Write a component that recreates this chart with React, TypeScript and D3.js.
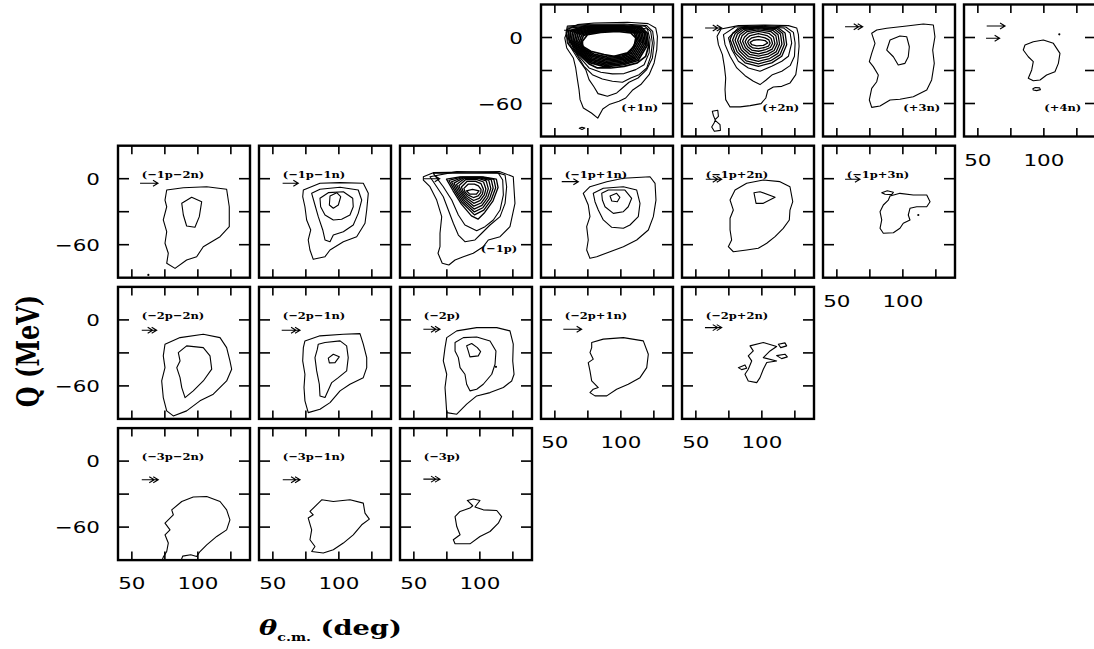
import React from 'react';
import * as d3 from 'd3';

type Pt = [number, number];
type Arrow = { from: number; to: number; q: number; heads: 1 | 2 };

// Axes shared by every panel
const THETA_DOMAIN: [number, number] = [39.5, 139.5];
const Q_DOMAIN: [number, number] = [-90, 30];
const THETA_TICKS = [50, 75, 100, 125];
const THETA_LABELS = [50, 100];
const Q_TICKS = [0, -30, -60];
const Q_LABELS = [0, -60];

// ---- (+1n) ----
const P1N_C1: Pt[] = [[60,7.8],[57.5,-0.4],[59,-9.5],[64,-18.6],[65.8,-27.7],[67.1,-38.3],[68.3,-47.4],[69.1,-56.5],[71.6,-64.1],[77.7,-68.6],[82.5,-73.3],[86.3,-65],[91.1,-61],[98.6,-58],[103.7,-55],[108.7,-48],[115.1,-42.8],[121.4,-33.8],[125.2,-23.1],[127.2,-11],[127.7,1.1],[126.4,8.7],[120.6,12.6],[105,13.8],[79.7,13.2],[67.1,11.7]];
const P1N_C2: Pt[] = [[59.5,10.5],[58.5,4.7],[59.5,-5],[61.5,-8],[67.1,-18.6],[73.4,-29.2],[75.9,-38.3],[79.7,-45],[82.7,-51],[89.8,-53.4],[96.9,-50.4],[101.2,-45.9],[106.2,-40.7],[113,-36.8],[119.6,-29.2],[123.9,-18.6],[125.2,-5],[124.1,5.6],[119.6,10.8],[102.4,12.3],[77.2,12]];
const P1N_C3: Pt[] = [[60,9.5],[59,3],[60.3,-6],[65.8,-14],[72.1,-26.2],[78.4,-33.8],[86,-37.7],[93.6,-39.8],[101.2,-40.7],[107.5,-36.8],[113.8,-33.8],[119.6,-27.7],[122.6,-17.1],[123.9,-5],[122.6,5.6],[118.1,10.2],[102.4,11.4],[77.2,11.4]];
const P1N_C4: Pt[] = [[61,8.5],[59.8,2],[61.8,-7.5],[68.3,-17.1],[75.9,-27.7],[84.8,-31.6],[93.6,-33.1],[102.4,-32.8],[111.3,-29.2],[117.6,-24.7],[121.4,-14],[122.1,-1.9],[120.1,7.8],[102.4,10.8],[77.2,10.8]];
const P1N_C5: Pt[] = [[60.5,6],[60.8,-2],[64.5,-10],[67,-14],[76,-24],[82.2,-27.7],[92.3,-27.7],[102.4,-26.2],[112.5,-23.1],[118.8,-17.1],[121,-8],[120,4],[115,9.8],[95,10.4],[72,10]];
const P1N_R1: Pt[] = [[61.9,5.4],[61.4,-2.2],[67.7,-13.6],[76.4,-22.9],[88.2,-26.7],[101.9,-24.8],[113.1,-20.9],[119.9,-7.3],[118.8,4],[113.6,9.3],[94.4,9.9],[72.8,9.3]];
const P1N_R2: Pt[] = [[63.3,4.9],[62.6,-2.5],[68.3,-13.1],[76.9,-21.8],[88.4,-25.4],[101.8,-23.7],[112.2,-19.9],[118.8,-6.7],[117.6,4.2],[112.1,8.8],[93.9,9.3],[73.6,8.7]];
const P1N_R3: Pt[] = [[64.7,4.3],[63.7,-2.7],[69,-12.7],[77.3,-20.7],[88.7,-24.2],[101.7,-22.5],[111.3,-18.8],[117.7,-6],[116.3,4],[110.7,8.4],[93.3,8.8],[74.3,8]];
const P1N_R4: Pt[] = [[66.1,3.8],[64.9,-2.9],[69.7,-12.2],[77.8,-19.6],[88.9,-22.9],[101.6,-21.3],[110.4,-17.8],[116.6,-5.3],[115.1,4.1],[109.2,7.9],[92.8,8.2],[75.1,7.3]];
const P1N_R5: Pt[] = [[67.4,3.2],[66.1,-3.1],[70.3,-11.8],[78.2,-18.4],[89.1,-21.6],[101.4,-20.2],[109.6,-16.7],[115.4,-4.7],[113.9,4],[107.8,7.4],[92.2,7.7],[75.9,6.7]];
const P1N_R6: Pt[] = [[68.8,2.7],[67.3,-3.3],[71,-11.3],[78.7,-17.3],[89.3,-20.3],[101.3,-19],[108.7,-15.7],[114.3,-4],[112.7,4.2],[106.3,6.9],[91.7,7.1],[76.7,6]];
const P1N_R7: Pt[] = [[70.2,2.1],[68.6,-3.6],[71.7,-10.9],[79.1,-16.2],[89.6,-19.1],[101.2,-17.8],[107.8,-14.6],[113.2,-3.3],[111.4,4],[104.9,6.5],[91.1,6.6],[77.4,5.3]];
const P1N_R8: Pt[] = [[71.6,1.6],[69.8,-3.8],[72.3,-10.4],[79.6,-15.1],[89.8,-17.8],[101.1,-16.7],[106.9,-13.6],[112.1,-2.7],[110.2,4],[103.4,6],[90.6,6],[78.2,4.7]];
const P1N_CORE: Pt[] = [[70.9,-3.4],[74.7,2.6],[84.8,4.7],[97.4,5.6],[107.5,4.1],[111.3,-0.4],[110,-8],[105,-14],[94.9,-17.1],[87.3,-15.6],[77.2,-12.5],[70.9,-8]];
const P1N_ISLE: Pt[] = [[68.5,-82.6],[70.5,-81.6],[72.7,-82.3],[70.6,-83.6]];

// ---- (+2n) ----
const P2N_C1: Pt[] = [[69.1,7.8],[66.1,1.1],[67.1,-6.5],[70.1,-15.6],[71.6,-26.2],[72.6,-36.8],[72.1,-47.4],[72.6,-56.5],[75.9,-63.1],[83.5,-63.1],[91.1,-61.9],[99.4,-60.1],[103,-55],[104.5,-48],[108.7,-45],[115.1,-44.4],[121.4,-41.3],[125.7,-33.8],[127.2,-21.6],[128.2,-8],[127.7,2.6],[126.4,8.7],[120.1,10.8],[102.4,11.4],[82.2,10.8]];
const P2N_C2: Pt[] = [[70.9,2.6],[72.1,-6.5],[75.9,-17.1],[81,-27.7],[87.3,-34.7],[93.6,-39.8],[98.6,-42.8],[103,-38.9],[108,-33.8],[115.1,-30.7],[121.4,-25.6],[124.7,-17.1],[125.2,-5],[123.9,4.7],[118.1,9.6],[102.4,10.8],[79.7,9.6]];
const P2N_C3: Pt[] = [[74.7,-0.4],[77.2,-11],[82.2,-21.6],[89.8,-27.7],[98.6,-30.7],[107.5,-26.2],[115.1,-21.6],[120.1,-17.1],[122.6,-5],[121.4,4.1],[116.3,8.7],[99.9,10.2],[82.2,8.7]];
const P2N_C4: Pt[] = [[75.9,-1.9],[79.7,-14],[87.3,-23.1],[97.4,-26.2],[107.5,-23.1],[115.1,-17.1],[118.8,-6.5],[117.6,4.1],[112.5,8.7],[97,9.8],[84,8.7],[78,4]];
const P2N_R1: Pt[] = [[77.8,-2.2],[81.3,-13.1],[88.1,-21.2],[97.4,-23.9],[106.7,-21.1],[113.7,-15.8],[117,-6.3],[115.8,3.7],[111.1,8.2],[97,9.3],[85.2,8.2],[79.8,3.6]];
const P2N_R2: Pt[] = [[79.7,-2.5],[82.9,-12.1],[89,-19.2],[97.4,-21.6],[105.9,-19.1],[112.2,-14.4],[115.2,-6.1],[114.1,3.2],[109.6,7.5],[97.1,8.7],[86.4,7.5],[81.5,3.1]];
const P2N_R3: Pt[] = [[81.6,-2.8],[84.4,-11.2],[89.8,-17.3],[97.4,-19.3],[105.1,-17.1],[110.8,-13.1],[113.4,-5.9],[112.3,2.5],[108.2,6.6],[97.2,8],[87.6,6.6],[83.3,2.4]];
const P2N_R4: Pt[] = [[83.5,-3.2],[86,-10.3],[90.7,-15.3],[97.5,-17],[104.4,-15.1],[109.3,-11.8],[111.7,-5.8],[110.6,1.6],[106.8,5.4],[97.2,7],[88.8,5.4],[85,1.5]];
const P2N_R5: Pt[] = [[85.4,-3.5],[87.6,-9.3],[91.5,-13.4],[97.5,-14.8],[103.6,-13.1],[107.9,-10.5],[109.9,-5.6],[108.8,0.4],[105.3,3.8],[97.3,5.5],[90,3.8],[86.8,0.3]];
const P2N_R6: Pt[] = [[87.3,-3.8],[89.2,-8.4],[92.3,-11.4],[97.5,-12.5],[102.8,-11.1],[106.4,-9.1],[108.1,-5.4],[107,-1],[103.9,1.8],[97.3,3.5],[91.2,1.8],[88.5,-1]];
const P2N_R7: Pt[] = [[89.2,-4.1],[90.7,-7.4],[93.2,-9.5],[97.5,-10.2],[102,-9.1],[105,-7.8],[106.3,-5.2],[105.3,-2.2],[102.4,-0.3],[97.4,1],[92.4,-0.3],[90.3,-2.2]];
const P2N_CORE: Pt[] = [[91.1,-4.4],[92.3,-6.5],[96.1,-7.7],[101.2,-7.1],[104.5,-5],[102.4,-2.8],[97.4,-1.9],[93.6,-2.5]];
const P2N_ISLE_A: Pt[] = [[62.5,-67.1],[66.6,-66.2],[67.1,-71.6],[64.6,-74.7],[63.3,-71]];
const P2N_ISLE_B: Pt[] = [[64.6,-75.3],[68.3,-79.2],[68.6,-84.4],[64,-85.3],[62,-81.3],[63.8,-77.7]];

// ---- (+3n) ----
const P3N_C1: Pt[] = [[76.4,3.8],[80.2,6.8],[87.8,8.4],[102.9,10.5],[115.5,12.3],[123.1,11.4],[124.3,0.7],[122.6,-11.4],[123.8,-23.5],[121.8,-38.6],[118.1,-47.7],[107.9,-53.8],[97.8,-56.2],[90.3,-56.8],[82.7,-62.3],[76.4,-63.5],[74.6,-56.8],[76.4,-46.2],[80.2,-40.2],[81.4,-34.1],[77.6,-26.5],[74.6,-22],[76.4,-14.4],[78.9,-5.3]];
const P3N_C2: Pt[] = [[90.3,-2.3],[97.8,1.4],[102.9,0.7],[104.9,-8.4],[104.1,-17.5],[101.6,-23.5],[96.5,-25],[92.8,-17.5],[87.8,-11.4]];

// ---- (+4n) ----
const P4N_C1: Pt[] = [[85.7,-6.8],[92,-3.8],[99.6,-2.3],[107.2,-5.3],[112.2,-14.4],[111,-23.5],[108.4,-31.1],[102.1,-34.1],[97.1,-38.6],[92,-39.3],[88.2,-37.1],[90.8,-29.5],[92,-22],[88.2,-17.5],[84.4,-11.4]];
const P4N_ISLE: Pt[] = [[91.7,-46.6],[93.5,-45.4],[96.8,-45.8],[97.4,-47.4],[94.5,-48.3],[92,-47.8]];
const P4N_DOT: Pt = [111.7, 2.9];

// ---- (-1p-2n) ----
const M1P2N_C1: Pt[] = [[76.4,-10.3],[89,-8.2],[106.7,-7.3],[121.8,-9.6],[123.8,-25.5],[123.8,-43.6],[116.8,-52.7],[104.1,-61.8],[99.1,-70.9],[91.5,-73.9],[82.7,-81.5],[76.4,-76.9],[77.6,-67.8],[75.1,-58.7],[76.4,-48.2],[73.8,-37.5],[76.4,-25.5],[75.1,-19.4]];
const M1P2N_C2: Pt[] = [[87.8,-22.4],[95.3,-16.9],[102.9,-20.9],[101.1,-34.5],[97.8,-44.2],[91.5,-43],[89,-33]];
const M1P2N_DOT: Pt = [62.5, -87.5];

// ---- (-1p-1n) ----
const M1P1N_C1: Pt[] = [[73.1,-10.3],[85.7,-4.2],[100.9,-3.6],[118.5,-4.2],[122.3,-13.3],[121.1,-28.5],[119.8,-40.5],[113.5,-52.7],[103.4,-57.3],[93.3,-64.8],[89.5,-70.9],[80.6,-73.3],[78.1,-64.8],[76.8,-55.7],[78.7,-46.6],[75.6,-37.5],[74.3,-25.5],[72.6,-16.4]];
const M1P1N_C2: Pt[] = [[79.4,-13.3],[85.7,-9.6],[100.9,-7.8],[114.7,-10.3],[117.3,-19.4],[114.7,-31.5],[110.9,-42.1],[103.4,-48.2],[95.8,-51.2],[93.3,-57.3],[89.5,-55.7],[87.8,-46.6],[84.4,-34.5],[81.9,-23.9]];
const M1P1N_C3: Pt[] = [[85.7,-17.8],[92,-12.7],[103.4,-11.8],[110.5,-17.8],[110.9,-25.5],[108.4,-33],[102.1,-36.9],[95.8,-37.5],[89.5,-33],[86.2,-25.5]];
const M1P1N_C4: Pt[] = [[93.3,-15.7],[98.4,-12.7],[101.4,-16.4],[99.6,-23.9],[95.8,-26.9],[92.8,-23.9]];

// ---- (-1p) ----
const M1P_C1: Pt[] = [[57.2,1.8],[64.7,5.5],[115.3,6.4],[125.3,1.8],[126.6,-22.4],[122.8,-43.6],[115.3,-52.7],[106.4,-55.7],[102.6,-61.8],[95,-67.8],[87.5,-70.9],[81.2,-73.9],[76.5,-78.5],[71.5,-76.9],[68.3,-67.8],[69.8,-61.8],[69.8,-49.6],[71.1,-34.5],[67.3,-19.4],[62.2,-7.3],[57.2,-1.2]];
const M1P_C2: Pt[] = [[62.2,1.8],[67.3,-7.3],[72.3,-16.4],[76.1,-28.5],[79.9,-40.5],[83.7,-51.2],[88.7,-57.3],[96.3,-55.7],[101.4,-49.6],[107.7,-42.1],[115.3,-34.5],[119.1,-22.4],[120.3,-7.3],[119.1,3.4],[112.8,5.5],[82.5,6.4]];
const M1P_C3: Pt[] = [[64.7,4.9],[72.3,-7.3],[78.7,-19.4],[83.7,-33],[88.7,-42.1],[97.6,-47.3],[103.9,-43.6],[110.2,-37.5],[115.3,-28.5],[117.8,-14.8],[117.3,-1.2],[114,4.9]];
const M1P_C4: Pt[] = [[74.7,-0.4],[79.7,-11],[86,-23.1],[93.6,-33.8],[98.6,-36.8],[103.7,-30.7],[110,-20.1],[113.8,-8],[112.5,-0.4],[102.4,1.7],[84.8,1.7]];
const M1P_R1: Pt[] = [[76.6,-1.6],[81,-11.1],[86.7,-21.9],[95.9,-32.9],[103,-28.6],[108.7,-19],[112,-8.3],[110.6,-0.6],[101.5,1.4],[85.7,1.4]];
const M1P_R2: Pt[] = [[78.5,-2.8],[82.3,-11.3],[87.4,-20.7],[95.8,-30.2],[102.3,-26.4],[107.4,-17.9],[110.1,-8.5],[108.6,-0.9],[100.5,1.1],[86.6,1.1]];
const M1P_R3: Pt[] = [[80.4,-4],[83.6,-11.4],[88.1,-19.5],[95.6,-27.6],[101.6,-24.3],[106,-16.9],[108.3,-8.8],[106.7,-1.3],[99.6,0.7],[87.5,0.7]];
const M1P_R4: Pt[] = [[82.3,-5.2],[84.9,-11.5],[88.8,-18.3],[95.5,-25],[100.9,-22.1],[104.7,-15.8],[106.4,-9],[104.8,-2],[98.7,0.2],[88.4,0.2]];
const M1P_R5: Pt[] = [[84.1,-6.4],[86.1,-11.6],[89.4,-17.1],[95.4,-22.4],[100.1,-20],[103.4,-14.7],[104.6,-9.3],[102.8,-3],[97.8,-0.8],[89.3,-0.8]];
const M1P_R6: Pt[] = [[86,-7.6],[87.4,-11.8],[90.1,-15.9],[95.3,-19.8],[99.4,-17.8],[102,-13.7],[102.7,-9.5],[100.9,-4.5],[96.8,-2.5],[90.2,-2.5]];
const M1P_R7: Pt[] = [[87.9,-8.8],[88.7,-11.9],[90.8,-14.7],[95.1,-17.1],[98.7,-15.7],[100.7,-12.6],[100.9,-9.8],[98.9,-6.5],[95.9,-5],[91.1,-5]];
const M1P_CORE: Pt[] = [[89.8,-11],[94.4,-9.8],[99.4,-11],[97.4,-14],[92.3,-14]];

// ---- (-1p+1n) ----
const M1P1P_C1: Pt[] = [[71.5,-13.3],[76.6,-7.3],[89.3,-2.7],[101.9,0.4],[122.1,1.8],[125.9,-4.2],[126.6,-19.4],[124.6,-34.5],[120.8,-46.6],[112,-55.7],[101.9,-61.8],[91.8,-66.4],[81.7,-70.9],[76.6,-72.4],[74.1,-64.8],[75.3,-55.7],[74.1,-43.6],[76.6,-34.5],[75.3,-23.9]];
const M1P1P_C2: Pt[] = [[79.1,-13.3],[86.7,-8.7],[101.9,-7.3],[112,-10.3],[114.5,-22.4],[113.2,-34.5],[106.9,-42.1],[101.9,-45.1],[93.1,-44.2],[86.7,-37.5],[82.9,-28.5],[80.4,-20.9]];
const M1P1P_C3: Pt[] = [[85.5,-13.3],[90.5,-10.3],[103.1,-10.3],[108.2,-17.8],[105.6,-25.5],[101.9,-30],[94.3,-31.5],[88,-25.5],[86,-19.4]];
const M1P1P_C4: Pt[] = [[91.8,-15.7],[96.8,-13.3],[99.3,-16.9],[97.3,-20.9],[93.1,-20.3]];

// ---- (-1p+2n) ----
const M1P2P_C1: Pt[] = [[79.7,-10.3],[88.5,-4.2],[101.1,-1.2],[113.7,-2.7],[121.3,-7.3],[123.4,-20.9],[121.3,-28.5],[120.8,-37.5],[116.2,-45.1],[110,-52.7],[103.7,-58.7],[97.3,-63.3],[88.5,-64.8],[78.4,-66.4],[74.6,-61.8],[77.1,-55.7],[75.9,-46.6],[75.9,-36],[78.4,-28.5],[75.9,-19.4]];
const M1P2P_C2: Pt[] = [[94,-12.7],[98.6,-11.8],[110,-16.9],[101.1,-22.4],[95.6,-22.4]];

// ---- (-1p+3n) ----
const M1P3P_C1: Pt[] = [[90.3,-15.7],[97.8,-13.3],[107.9,-14.8],[118.1,-14.8],[120.6,-20.9],[118.1,-25.5],[110.5,-25.5],[105.4,-26.9],[104.1,-33],[105.4,-37.5],[100.3,-40.5],[97.8,-45.1],[92.8,-49.1],[85.2,-49.6],[82.7,-45.1],[84,-37.5],[82.7,-30],[85.2,-23.9],[89,-19.4]];
const M1P3P_C2: Pt[] = [[84,-12.7],[88.2,-10.9],[92.8,-12.4],[91.5,-14.5],[86.5,-14.2]];
const M1P3P_DOT: Pt = [111.7, -33];

// ---- (-2p-2n) ----
const M2P2N_C1: Pt[] = [[75.1,-22.1],[86.5,-16.1],[104.1,-13],[116.8,-16.1],[121.8,-25.2],[124.3,-37.3],[125.6,-44.8],[121.8,-55.5],[111.7,-67.5],[101.6,-73.6],[91.5,-82.7],[81.4,-87.3],[76.4,-82.7],[73.8,-70.6],[72.6,-55.5],[75.1,-43.4],[73.8,-32.7]];
const M2P2N_C2: Pt[] = [[85.2,-29.7],[91.5,-23.6],[104.1,-25.2],[109.2,-32.7],[110.5,-44.8],[104.1,-55.5],[96.5,-64.5],[90.3,-70.6],[87.8,-61.5],[86.5,-52.5],[84,-43.4],[86.5,-37.3]];

// ---- (-2p-1n) ----
const M2P1N_C1: Pt[] = [[74.3,-19.1],[85.7,-14.5],[103.4,-13],[116,-12.5],[118.5,-22.1],[121.1,-34.3],[121.1,-43.4],[118.5,-52.5],[108.4,-58.5],[100.9,-64.5],[93.3,-75.2],[85.7,-81.2],[76.8,-84.3],[74.3,-73.6],[73.6,-61.5],[74.3,-49.4],[72.6,-37.3],[73.1,-25.2]];
const M2P1N_C2: Pt[] = [[84.4,-22.1],[89.5,-20.6],[100.9,-19.1],[105.9,-23.6],[107.1,-34.3],[105.9,-46.4],[99.6,-52.5],[94.6,-57],[89.5,-70.6],[85.7,-69.1],[85.2,-58.5],[83.2,-46.4],[81.9,-34.3],[83.7,-26.6]];
const M2P1N_C3: Pt[] = [[92,-34.8],[95.8,-31.2],[100.3,-33.6],[97.1,-38.8],[92.8,-39.1]];

// ---- (-2p) ----
const M2P_C1: Pt[] = [[74.9,-16.1],[82.5,-10],[97.6,-7],[112.8,-7],[122.8,-10],[125.3,-22.1],[124.9,-37.3],[125.9,-49.4],[124.1,-55.5],[117.8,-61.5],[107.7,-66.1],[97.6,-69.1],[90,-76.6],[82.5,-85.7],[74.9,-84.3],[74.3,-73.6],[73.6,-61.5],[74.9,-49.4],[72.3,-37.3],[73.6,-25.2]];
const M2P_C2: Pt[] = [[81.2,-20.6],[87.5,-16.1],[97.6,-15.5],[107.7,-19.1],[112.2,-28.2],[111.5,-40.3],[109,-49.4],[102.6,-58.5],[97.6,-63],[92.5,-64.5],[90,-58.5],[88.7,-49.4],[85,-43.4],[83.7,-34.3],[81.2,-28.2]];
const M2P_C3: Pt[] = [[90,-23.6],[93.8,-21.5],[98.1,-25.2],[100.6,-28.8],[98.8,-32.7],[92.5,-33.6],[91.2,-28.2]];
const M2P_DOT: Pt = [112.2, -42.7];

// ---- (-2p+1n) ----
const M2P1P_C1: Pt[] = [[77.9,-20.6],[86.7,-17.5],[101.9,-16.1],[117,-19.1],[120.8,-31.2],[119.6,-43.4],[114.5,-52.5],[105.6,-58.5],[96.8,-63],[89.3,-69.1],[80.4,-69.1],[76.6,-66.1],[79.1,-63],[82.9,-61.5],[77.9,-55.5],[76.6,-46.4],[75.3,-38.8],[79.1,-35.7],[76.6,-29.7],[77.9,-25.2]];

// ---- (-2p+2n) ----
const M2P2P_C1: Pt[] = [[91,-23.6],[101.1,-20.6],[111.2,-24.2],[106.2,-28.2],[101.1,-34.3],[111.2,-37.3],[103.7,-38.8],[101.1,-44.8],[98.6,-52.5],[96.1,-57],[89.7,-55.5],[87.2,-49.4],[89.7,-44.8],[92.3,-37.3],[89.7,-32.7],[93.5,-28.2]];
const M2P2P_C2: Pt[] = [[112.5,-22.1],[117.5,-20.9],[118.8,-23.6],[114.3,-25.2]];
const M2P2P_C3: Pt[] = [[111.2,-32.5],[117.5,-31.2],[119.3,-33.6],[115,-35.2]];
const M2P2P_C4: Pt[] = [[82.2,-43.4],[87.2,-40.9],[88.5,-43.9],[84.7,-45.2]];

// ---- (-3p-2n) ---- (runs out through the lower edge)
const M3P2N_C1: Pt[] = [[72,-93],[73.8,-87.3],[76.4,-82.2],[77.6,-74.5],[75.1,-67],[78.9,-62.5],[75.1,-56.4],[81.4,-48.8],[80.2,-44.3],[87.8,-36.7],[96.5,-32.7],[106.7,-32.2],[116.8,-36.7],[121.8,-44.3],[124.3,-53.4],[121.8,-62.5],[114.3,-68.5],[106.7,-76.1],[101.6,-82.2],[99.1,-86.7],[94.6,-85.2],[88.5,-86.4],[86.5,-93]];

// ---- (-3p-1n) ----
const M3P1N_C1: Pt[] = [[78.1,-45.8],[87,-35.2],[95.8,-36.7],[108.4,-35.2],[118.5,-38.2],[119.8,-47.3],[123.1,-52.7],[117.3,-57.9],[110.9,-67],[103.4,-74.5],[95.8,-80.6],[88.2,-83.6],[79.4,-82.2],[81.9,-77.6],[78.1,-71.5],[79.4,-62.5],[76.8,-51.8],[80.6,-48.8]];

// ---- (-3p) ----
const M3P_C1: Pt[] = [[90.5,-35.8],[95,-34.5],[100.1,-35.8],[97.6,-39.7],[96.3,-41.8],[102.6,-44.3],[112.8,-44.9],[116.5,-50.4],[114,-56.4],[107.7,-64],[100.1,-68.5],[92.5,-75.2],[81.2,-75.2],[79.9,-71.5],[85,-67],[82.5,-59.5],[81.2,-50.4],[85,-45.8],[92.5,-42.7],[94.6,-40.6]];

interface PanelSpec {
  label: string;
  row: number;
  col: number;
  labelAt: 'tl' | 'br';
  closed: Pt[][];
  rings?: Pt[][];
  ringWidth?: number;
  open?: Pt[][];
  dots?: Pt[];
  arrows: Arrow[];
}

const PANELS: PanelSpec[] = [
  { label: '(+1n)', row: 0, col: 3, labelAt: 'br',
    closed: [P1N_C1, P1N_C2, P1N_C3, P1N_C4, P1N_ISLE],
    rings: [P1N_C5, P1N_R1, P1N_R2, P1N_R3, P1N_R4, P1N_R5, P1N_R6, P1N_R7, P1N_R8, P1N_CORE], ringWidth: 1.7,
    arrows: [{ from: 57, to: 69.6, q: 6.6, heads: 1 }] },
  { label: '(+2n)', row: 0, col: 4, labelAt: 'br',
    closed: [P2N_C1, P2N_C2, P2N_C3, P2N_ISLE_A, P2N_ISLE_B],
    rings: [P2N_C4, P2N_R1, P2N_R2, P2N_R3, P2N_R4, P2N_R5, P2N_R6, P2N_R7, P2N_CORE], ringWidth: 1.3,
    arrows: [{ from: 57, to: 69.6, q: 8.7, heads: 2 }] },
  { label: '(+3n)', row: 0, col: 5, labelAt: 'br',
    closed: [P3N_C1, P3N_C2],
    arrows: [{ from: 56.2, to: 69.6, q: 9.8, heads: 2 }] },
  { label: '(+4n)', row: 0, col: 6, labelAt: 'br',
    closed: [P4N_C1, P4N_ISLE], dots: [P4N_DOT],
    arrows: [{ from: 56.7, to: 70.6, q: 10.5, heads: 1 }, { from: 56.2, to: 66.5, q: -0.7, heads: 1 }] },
  { label: '(\u22121p\u22122n)', row: 1, col: 0, labelAt: 'tl',
    closed: [M1P2N_C1, M1P2N_C2], dots: [M1P2N_DOT],
    arrows: [{ from: 56.2, to: 69.8, q: -4.2, heads: 1 }] },
  { label: '(\u22121p\u22121n)', row: 1, col: 1, labelAt: 'tl',
    closed: [M1P1N_C1, M1P1N_C2, M1P1N_C3, M1P1N_C4],
    arrows: [{ from: 57.4, to: 69.3, q: -4.2, heads: 1 }] },
  { label: '(\u22121p)', row: 1, col: 2, labelAt: 'br',
    closed: [M1P_C1, M1P_C2, M1P_C3],
    rings: [M1P_C4, M1P_R1, M1P_R2, M1P_R3, M1P_R4, M1P_R5, M1P_R6, M1P_R7, M1P_CORE], ringWidth: 1.3,
    arrows: [{ from: 57.5, to: 69.6, q: 0, heads: 1 }] },
  { label: '(\u22121p+1n)', row: 1, col: 3, labelAt: 'tl',
    closed: [M1P1P_C1, M1P1P_C2, M1P1P_C3, M1P1P_C4],
    arrows: [{ from: 55.2, to: 67.8, q: -2.7, heads: 1 }] },
  { label: '(\u22121p+2n)', row: 1, col: 4, labelAt: 'tl',
    closed: [M1P2P_C1, M1P2P_C2],
    arrows: [{ from: 57.5, to: 69.6, q: -0.5, heads: 2 }] },
  { label: '(\u22121p+3n)', row: 1, col: 5, labelAt: 'tl',
    closed: [M1P3P_C1, M1P3P_C2], dots: [M1P3P_DOT],
    arrows: [{ from: 56.2, to: 67.5, q: -0.5, heads: 1 }] },
  { label: '(\u22122p\u22122n)', row: 2, col: 0, labelAt: 'tl',
    closed: [M2P2N_C1, M2P2N_C2],
    arrows: [{ from: 57.5, to: 68.8, q: -9.4, heads: 2 }] },
  { label: '(\u22122p\u22121n)', row: 2, col: 1, labelAt: 'tl',
    closed: [M2P1N_C1, M2P1N_C2, M2P1N_C3],
    arrows: [{ from: 56.7, to: 70.6, q: -9.4, heads: 2 }] },
  { label: '(\u22122p)', row: 2, col: 2, labelAt: 'tl',
    closed: [M2P_C1, M2P_C2, M2P_C3], dots: [M2P_DOT],
    arrows: [{ from: 57.2, to: 69.8, q: -8.5, heads: 2 }] },
  { label: '(\u22122p+1n)', row: 2, col: 3, labelAt: 'tl',
    closed: [M2P1P_C1],
    arrows: [{ from: 56.4, to: 70.3, q: -8.5, heads: 1 }] },
  { label: '(\u22122p+2n)', row: 2, col: 4, labelAt: 'tl',
    closed: [M2P2P_C1, M2P2P_C2, M2P2P_C3, M2P2P_C4],
    arrows: [{ from: 56.9, to: 69.6, q: -7, heads: 2 }] },
  { label: '(\u22123p\u22122n)', row: 3, col: 0, labelAt: 'tl',
    closed: [], open: [M3P2N_C1],
    arrows: [{ from: 57.5, to: 70, q: -17, heads: 2 }] },
  { label: '(\u22123p\u22121n)', row: 3, col: 1, labelAt: 'tl',
    closed: [M3P1N_C1],
    arrows: [{ from: 57.5, to: 70.6, q: -17, heads: 2 }] },
  { label: '(\u22123p)', row: 3, col: 2, labelAt: 'tl',
    closed: [M3P_C1],
    arrows: [{ from: 57.2, to: 69.8, q: -16.4, heads: 2 }] },
];

const W = 1094;
const H = 649;
const SIZE = 132;
const LEFT0 = 118;
const TOP0 = 4.5;
const STEP_X = 141;
const STEP_Y = 141.2;
const STRETCH = 1.3;

const SANS = 'DejaVu Sans, sans-serif';
const SERIF = 'DejaVu Serif, serif';

const x = d3.scaleLinear().domain(THETA_DOMAIN).range([0, SIZE]);
const y = d3.scaleLinear().domain(Q_DOMAIN).range([SIZE, 0]);
const closedLine = d3.line<Pt>().x((d) => x(d[0])).y((d) => y(d[1])).curve(d3.curveLinearClosed);
const openLine = d3.line<Pt>().x((d) => x(d[0])).y((d) => y(d[1])).curve(d3.curveLinear);

function fmt(v: number): string {
  return v < 0 ? '\u2212' + Math.abs(v) : String(v);
}

function ArrowMark({ a }: { a: Arrow }) {
  const x0 = x(a.from);
  const x1 = x(a.to);
  const yy = y(a.q);
  const head = (tip: number) => `M${tip - 5},${yy - 3}L${tip},${yy}L${tip - 5},${yy + 3}`;
  let d = `M${x0},${yy}H${x1}` + head(x1);
  if (a.heads === 2) d += head(x1 - 4);
  return <path d={d} fill="none" stroke="#000" strokeWidth={1.1} />;
}

function Panel({ p, idx, showX, showY }: { p: PanelSpec; idx: number; showX: boolean; showY: boolean }) {
  const left = LEFT0 + STEP_X * p.col;
  const top = TOP0 + STEP_Y * p.row;
  const clipId = `panel-clip-${idx}`;
  const labelX = p.labelAt === 'tl' ? x(57.5) : x(128.3);
  const labelY = p.labelAt === 'tl' ? y(1) : y(-66.6);
  return (
    <g transform={`translate(${left},${top})`}>
      <clipPath id={clipId}>
        <rect x={0} y={0} width={SIZE} height={SIZE} />
      </clipPath>
      <g clipPath={`url(#${clipId})`} fill="none" stroke="#000" strokeLinejoin="round">
        {p.closed.map((c, i) => (
          <path key={`c${i}`} d={closedLine(c) || ''} strokeWidth={1.1} />
        ))}
        {(p.rings || []).map((c, i) => (
          <path key={`r${i}`} d={closedLine(c) || ''} strokeWidth={p.ringWidth || 1.1} />
        ))}
        {(p.open || []).map((c, i) => (
          <path key={`o${i}`} d={openLine(c) || ''} strokeWidth={1.1} />
        ))}
      </g>
      {(p.dots || []).map((d, i) => (
        <circle key={`d${i}`} cx={x(d[0])} cy={y(d[1])} r={1.1} fill="#000" />
      ))}
      {p.arrows.map((a, i) => (
        <ArrowMark key={`a${i}`} a={a} />
      ))}
      <text
        transform={`translate(${labelX},${labelY}) scale(1.15,1)`}
        textAnchor={p.labelAt === 'tl' ? 'start' : 'end'}
        fontFamily={SERIF}
        fontWeight="bold"
        fontSize={10}
      >
        {p.label}
      </text>
      {/* inward ticks on all four sides */}
      <g stroke="#000" strokeWidth={1.6}>
        {THETA_TICKS.map((t) => (
          <g key={`xt${t}`}>
            <line x1={x(t)} x2={x(t)} y1={0} y2={8.5} />
            <line x1={x(t)} x2={x(t)} y1={SIZE} y2={SIZE - 8.5} />
          </g>
        ))}
        {Q_TICKS.map((q) => (
          <g key={`yt${q}`}>
            <line x1={0} x2={11} y1={y(q)} y2={y(q)} />
            <line x1={SIZE} x2={SIZE - 11} y1={y(q)} y2={y(q)} />
          </g>
        ))}
      </g>
      <rect x={0} y={0} width={SIZE} height={SIZE} fill="none" stroke="#000" strokeWidth={2.4} />
      {showX &&
        THETA_LABELS.map((t) => (
          <text
            key={`xl${t}`}
            transform={`translate(${x(t)},${SIZE + 29}) scale(${STRETCH},1)`}
            textAnchor="middle"
            fontFamily={SANS}
            fontSize={16.5}
          >
            {fmt(t)}
          </text>
        ))}
      {showY &&
        Q_LABELS.map((q) => (
          <text
            key={`yl${q}`}
            transform={`translate(-18,${y(q) + 6}) scale(${STRETCH},1)`}
            textAnchor="end"
            fontFamily={SANS}
            fontSize={16.5}
          >
            {fmt(q)}
          </text>
        ))}
    </g>
  );
}

export default function App() {
  const firstColOfRow = d3.rollup(PANELS, (v) => d3.min(v, (p) => p.col) as number, (p) => p.row);
  const lastRowOfCol = d3.rollup(PANELS, (v) => d3.max(v, (p) => p.row) as number, (p) => p.col);
  return (
    <div style={{ position: 'absolute', left: 0, top: 0, width: W, height: H, overflow: 'hidden', background: '#fff' }}>
      <svg width={W} height={H} viewBox={`0 0 ${W} ${H}`} style={{ display: 'block' }}>
        <rect x={0} y={0} width={W} height={H} fill="#fff" />
        {PANELS.map((p, i) => (
          <Panel
            key={p.label}
            p={p}
            idx={i}
            showX={lastRowOfCol.get(p.col) === p.row}
            showY={firstColOfRow.get(p.row) === p.col}
          />
        ))}
        <text
          transform={`translate(39,351) rotate(-90) scale(1,${STRETCH})`}
          textAnchor="middle"
          fontFamily={SERIF}
          fontWeight="bold"
          fontSize={24}
        >
          Q (MeV)
        </text>
        <text transform={`translate(259,635) scale(${STRETCH},1)`} fontFamily={SERIF} fontWeight="bold" fontSize={21}>
          <tspan fontStyle="italic">{'\u03b8'}</tspan>
          <tspan fontSize={11} dy={6}>c.m.</tspan>
          <tspan dy={-6}>{' (deg)'}</tspan>
        </text>
      </svg>
    </div>
  );
}
